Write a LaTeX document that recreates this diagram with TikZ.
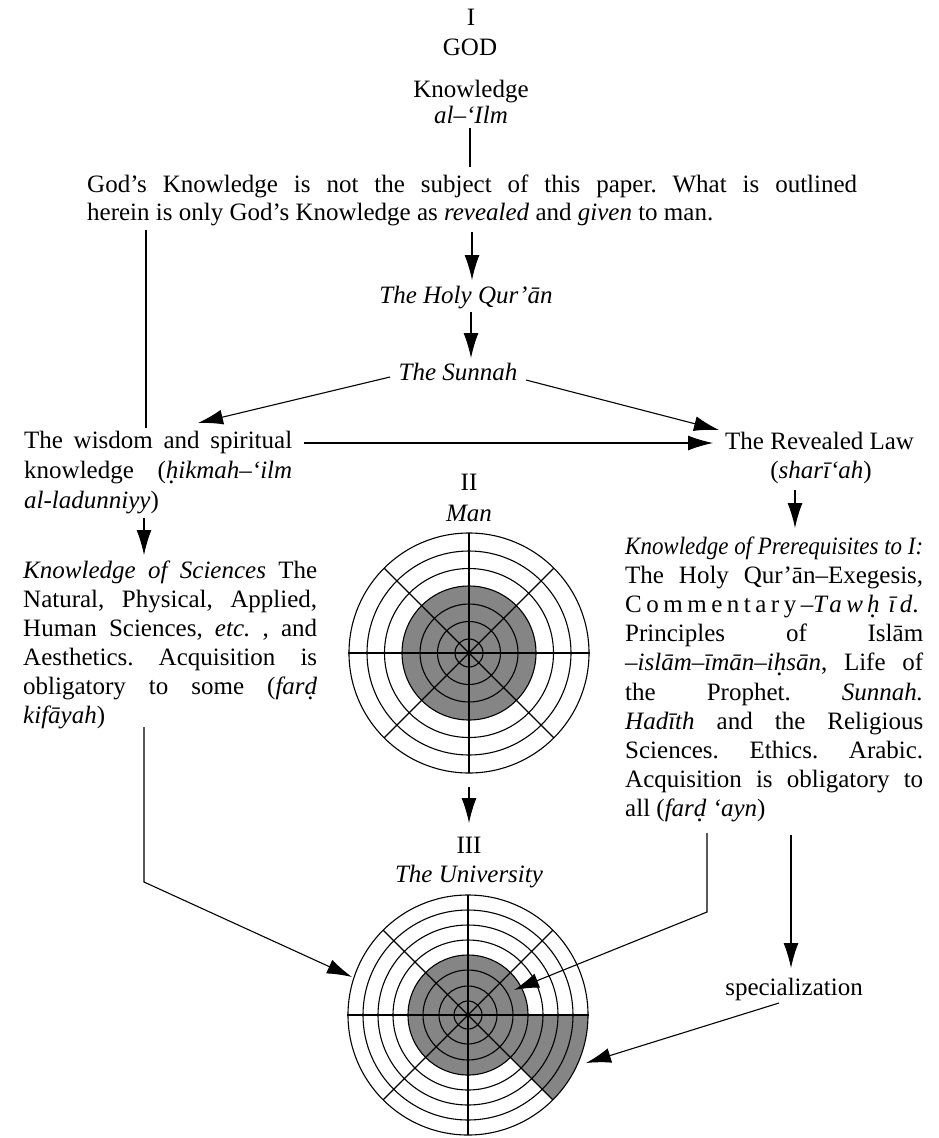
\documentclass[tikz,border=0pt]{standalone}
\usepackage{graphicx}
\usepackage{fontspec}
\setmainfont{Liberation Serif}
\usetikzlibrary{arrows.meta}
\frenchspacing
\newsavebox\jbox
\newcommand\jline[2]{\sbox\jbox{#2}\ifdim\wd\jbox>#1\relax\resizebox{#1}{\height}{\usebox\jbox}\else\makebox[#1][s]{#2}\fi}
\newcommand\dotb[1]{\oalign{#1\crcr\hidewidth.\hidewidth}}
\begin{document}
\begin{tikzpicture}[x=1pt,y=-1pt,
  font=\fontsize{25}{29}\selectfont\frenchspacing,
  txt/.style={inner sep=0pt},
  arr/.style={-{Latex[length=25pt,width=15pt]}, line width=1.1pt},
  ln/.style={line width=1.1pt},
  ring/.style={line width=1.1pt},
  shd/.style={fill=black!48}]
\useasboundingbox (0,0) rectangle (938,1138);
\fill[white] (0,0) rectangle (938,1138);

% ---------- top ----------
\node[txt, anchor=base] (rI) at (471,25) {I};
\node[txt, anchor=base] (god) at (470,55) {GOD};
\node[txt, anchor=base] (know) at (471,97) {Knowledge};
\node[txt, anchor=base] (ilm) at (471,123) {\textit{al–‘Ilm}};
\coordinate (ilmS) at (470,128);
\coordinate (paraN) at (470,167);
\draw[ln] (ilmS) -- (paraN);

\node[txt, anchor=base west] (p1) at (87,192) {\jline{770pt}{God’s Knowledge is not the subject of this paper. What is outlined}};
\node[txt, anchor=base west] (p2) at (87,220) {herein is only God’s Knowledge as \textit{revealed} and \textit{given} to man.};

% ---------- Qur'an, Sunnah ----------
\node[txt, anchor=base] (quran) at (466,303) {\textit{The Holy Qur’ān}};
\node[txt, anchor=base] (sunnah) at (458,380) {\textit{The Sunnah}};
\coordinate (pS) at (472,232);
\coordinate (qN) at (472,280);
\coordinate (qS) at (471,312);
\coordinate (sN) at (471,358);
\draw[arr] (pS) -- (qN);
\draw[arr] (qS) -- (sN);

% ---------- wisdom / revealed law ----------
\node[txt, anchor=base west] (w1) at (24,448) {\jline{268pt}{The wisdom and spiritual}};
\node[txt, anchor=base west] (w2) at (24,478) {\jline{268pt}{knowledge (\textit{\dotb{h}ikmah–‘ilm}}};
\node[txt, anchor=base west] (w3) at (24,508) {\textit{al-ladunniyy})};
\node[txt, anchor=base west] (law) at (725,449) {The Revealed Law};
\node[txt, anchor=base] (sharia) at (821,478) {(\textit{sharī‘ah})};

\coordinate (sW) at (390,377);
\coordinate (wN) at (198,423);
\coordinate (sE) at (526,380);
\coordinate (lawNW) at (719,430);
\draw[arr] (sW) -- (wN);
\draw[arr] (sE) -- (lawNW);
\coordinate (wE) at (304,443);
\coordinate (lawW) at (713,443);
\draw[arr] (wE) -- (lawW);
\coordinate (pL) at (146,230);
\coordinate (wT) at (146,428);
\draw[ln] (pL) -- (wT);

% ---------- left block ----------
\coordinate (wS) at (144,518);
\coordinate (ksN) at (144,555);
\draw[arr] (wS) -- (ksN);
\node[txt, anchor=base west] (k1) at (23,578) {\jline{294pt}{\textit{Knowledge of Sciences} The}};
\node[txt, anchor=base west] (k2) at (23,607) {\jline{294pt}{Natural, Physical, Applied,}};
\node[txt, anchor=base west] (k3) at (23,636) {\jline{294pt}{Human Sciences, \textit{etc.} , and}};
\node[txt, anchor=base west] (k4) at (23,665) {\jline{294pt}{Aesthetics. Acquisition is}};
\node[txt, anchor=base west] (k5) at (23,694) {\jline{294pt}{obligatory to some (\textit{far\dotb{d}}}};
\node[txt, anchor=base west] (k6) at (23,723) {\textit{kifāyah})};

% ---------- right block ----------
\coordinate (shS) at (795,490);
\coordinate (prN) at (795,528);
\draw[arr] (shS) -- (prN);
\node[txt, anchor=base west] (r1) at (625,554) {\jline{298pt}{\textit{Knowledge of Prerequisites to I:}}};
\node[txt, anchor=base west] (r2) at (625,583) {\jline{298pt}{The Holy Qur’ān–Exegesis,}};
\node[txt, anchor=base west] (r3) at (625,612) {\jline{298pt}{\addfontfeature{LetterSpace=18}Commentary–\textit{Taw\kern4pt\dotb{h}\kern9pt īd}.}};
\node[txt, anchor=base west] (r4) at (625,641) {\jline{298pt}{Principles of Islām}};
\node[txt, anchor=base west] (r5) at (625,670) {\jline{298pt}{–\textit{islām–īmān–i\dotb{h}sān}, Life of}};
\node[txt, anchor=base west] (r6) at (625,700) {\jline{298pt}{the Prophet. \textit{Sunnah.}}};
\node[txt, anchor=base west] (r7) at (625,729) {\jline{298pt}{\textit{Hadīth} and the Religious}};
\node[txt, anchor=base west] (r8) at (625,758) {\jline{298pt}{Sciences. Ethics. Arabic.}};
\node[txt, anchor=base west] (r9) at (625,787) {\jline{298pt}{Acquisition is obligatory to}};
\node[txt, anchor=base west] (r10) at (625,816) {all (\textit{far\dotb{d} ‘ayn})};

% ---------- II Man ----------
\node[txt, anchor=base] (rII) at (469,490) {II};
\node[txt, anchor=base] (man) at (469,521) {\textit{Man}};
\begin{scope}[shift={(469,653)}]
  \fill[shd] (0,0) circle[radius=67];
  \foreach \r in {14,31.5,49,67,84.5,102,120} \draw[ring] (0,0) circle[radius=\r];
  \draw[ring] (0,-120) -- (0,120);
  \draw[line width=1.5pt] (-121,0) -- (121,0);
  \draw[ring] (-84.85,-84.85) -- (84.85,84.85);
  \draw[ring] (-84.85,84.85) -- (84.85,-84.85);
\end{scope}
\coordinate (manS) at (469,787);
\coordinate (uN) at (469,823);
\draw[arr] (manS) -- (uN);

% ---------- III University ----------
\node[txt, anchor=base] (rIII) at (469,853) {III};
\node[txt, anchor=base] (uni) at (469,882) {\textit{The University}};
\begin{scope}[shift={(468,1015)}]
  \fill[shd] (0,0) circle[radius=60];
  \fill[shd] (0,0) -- (120,0) arc[start angle=0, end angle=45, radius=120] -- cycle;
  \foreach \r in {14,29,45,60,75,90,105,120} \draw[ring] (0,0) circle[radius=\r];
  \draw[ring] (0,-120) -- (0,120);
  \draw[ring] (-121,0) -- (121,0);
  \draw[ring] (-84.85,-84.85) -- (84.85,84.85);
  \draw[ring] (-84.85,84.85) -- (84.85,-84.85);
\end{scope}

% ---------- lower connectors ----------
\coordinate (kS) at (144,727);
\coordinate (kBend) at (144,882);
\coordinate (uW) at (352,977);
\draw[arr] (kS) -- (kBend) -- (uW);

\coordinate (rS1) at (707,833);
\coordinate (rBend) at (707,912);
\coordinate (uIn) at (514,990);
\draw[arr] (rS1) -- (rBend) -- (uIn);

\coordinate (rS2) at (791,835);
\coordinate (spN) at (791,968);
\draw[arr] (rS2) -- (spN);
\node[txt, anchor=base] (spec) at (794,995) {specialization};
\coordinate (spS) at (779,1003);
\coordinate (uWedge) at (586,1063);
\draw[arr] (spS) -- (uWedge);
\end{tikzpicture}
\end{document}
